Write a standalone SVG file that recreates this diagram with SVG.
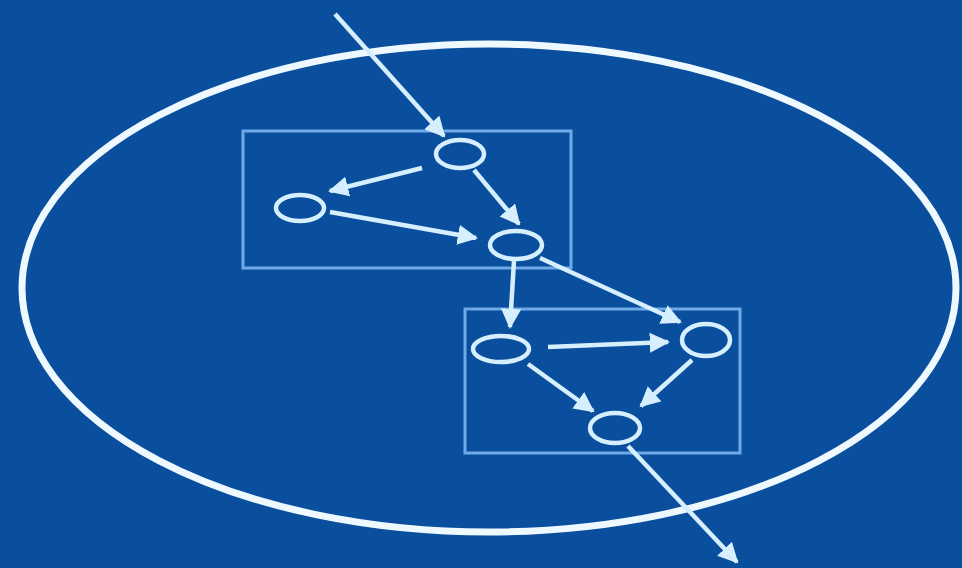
<svg xmlns="http://www.w3.org/2000/svg" width="962" height="568" viewBox="0 0 962 568">
<style>
.bg{fill:#0a4e9e}
.box{fill:none;stroke:#6fa9e6;stroke-width:3}
.node ellipse{fill:none;stroke:#d6efff;stroke-width:4.5}
.edge{fill:none;stroke:#d6efff;stroke-width:4.5;marker-end:url(#ah)}
.big{fill:none;stroke:#eef8ff;stroke-width:7}
</style>
<defs>
<marker id="ah" viewBox="0 0 10 10" refX="9" refY="5" markerWidth="4.5" markerHeight="4.5" orient="auto" markerUnits="strokeWidth">
<path d="M0,0 L10,5 L0,10 z" fill="#d6efff"/>
</marker>
</defs>
<rect class="bg" x="0" y="0" width="962" height="568"/>
<ellipse id="boundary" class="big" cx="489" cy="288" rx="467" ry="244"/>
<rect id="group1" class="box" x="243" y="131" width="328" height="137"/>
<rect id="group2" class="box" x="465" y="309" width="275" height="144"/>
<g id="connectors">
<line class="edge" x1="335" y1="14" x2="444" y2="136"/>
<line class="edge" x1="422" y1="168" x2="330" y2="191"/>
<line class="edge" x1="474" y1="170" x2="519" y2="224"/>
<line class="edge" x1="330" y1="212" x2="476" y2="238"/>
<line class="edge" x1="514" y1="261" x2="510" y2="327"/>
<line class="edge" x1="540" y1="258" x2="680" y2="322"/>
<line class="edge" x1="548" y1="347" x2="668" y2="342"/>
<line class="edge" x1="528" y1="364" x2="593" y2="411"/>
<line class="edge" x1="692" y1="360" x2="641" y2="406"/>
<line class="edge" x1="628" y1="446" x2="737" y2="562"/>
</g>
<g id="n1" class="node"><ellipse cx="460" cy="154" rx="24" ry="14"/></g>
<g id="n2" class="node"><ellipse cx="300" cy="208" rx="24" ry="13"/></g>
<g id="n3" class="node"><ellipse cx="516" cy="245" rx="26" ry="14"/></g>
<g id="n4" class="node"><ellipse cx="501" cy="349" rx="28" ry="13"/></g>
<g id="n5" class="node"><ellipse cx="706" cy="340" rx="24" ry="16"/></g>
<g id="n6" class="node"><ellipse cx="615" cy="428" rx="25" ry="15"/></g>
</svg>
